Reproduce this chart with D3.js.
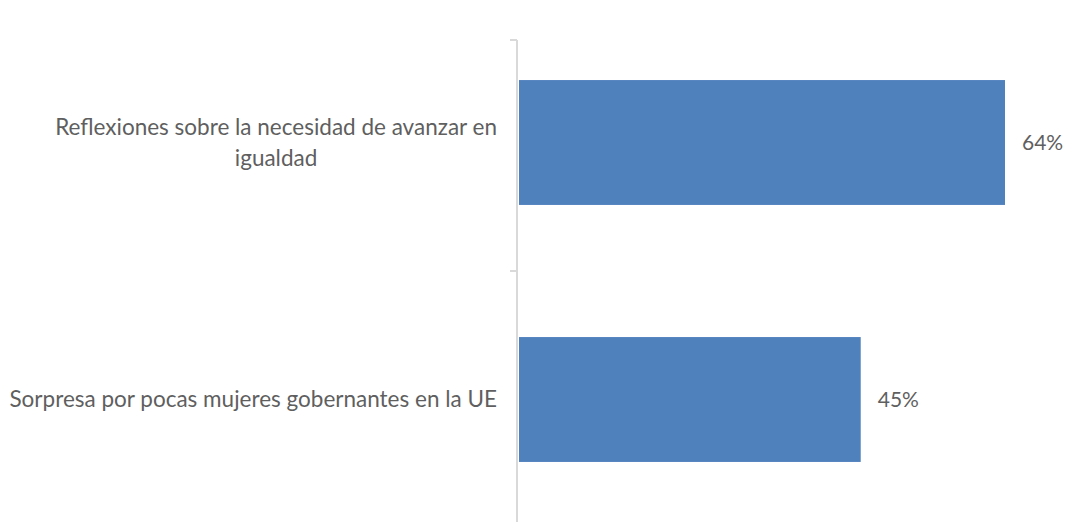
<html>
<head>
  <meta charset="utf-8" />
  <script src="https://cdnjs.cloudflare.com/ajax/libs/d3/7.8.5/d3.min.js"></script>
  <style>
    body { margin: 0; background: #fff; }
    text { font-family: Lato, "Open Sans", sans-serif; fill: #5f5f5f; }
  </style>
</head>
<body>
  <svg width="1068" height="524"></svg>
<script>

  var categories = [
    ["Reflexiones sobre la necesidad de avanzar en", "igualdad"],
    ["Sorpresa por pocas mujeres gobernantes en la UE"]
  ];
  var values = [64, 45];
  var valueLabels = ["64%", "45%"];

  var svg = d3.select("svg");
  var axisX = 517;

  var xScale = d3.scaleLinear().domain([0, 64]).range([axisX + 2, 1005]);
  var yScale = d3.scaleBand().domain(d3.range(categories.length))
                 .range([14, 528]).paddingInner(0.514).paddingOuter(0.257);

  // axis line + ticks between categories
  svg.append("line")
    .attr("x1", axisX).attr("x2", axisX)
    .attr("y1", 40).attr("y2", 522)
    .attr("stroke", "#d9d9d9").attr("stroke-width", 2);

  var tickYs = [40, (yScale(0) + yScale.bandwidth() + yScale(1)) / 2];
  svg.selectAll(".tick").data(tickYs).enter()
    .append("line")
      .attr("x1", axisX - 7).attr("x2", axisX)
      .attr("y1", d => d).attr("y2", d => d)
      .attr("stroke", "#d9d9d9").attr("stroke-width", 2);

  // bars
  svg.selectAll("rect")
    .data(values).enter()
    .append("rect")
      .attr("x", xScale(0))
      .attr("y", (d, i) => yScale(i))
      .attr("width", d => xScale(d) - xScale(0))
      .attr("height", yScale.bandwidth())
      .attr("fill", "#4f81bd");

  // value labels
  svg.selectAll(".val")
    .data(values).enter()
    .append("text")
      .attr("x", d => xScale(d) + 17)
      .attr("y", (d, i) => yScale(i) + yScale.bandwidth() / 2)
      .attr("dy", "0.35em")
      .style("font-size", "21px")
      .text((d, i) => valueLabels[i]);

  // category labels, multi-line centred in a right-aligned block
  var lineH = 31;
  var blockRight = 497;
  categories.forEach(function(lines, i) {
    var cy = yScale(i) + yScale.bandwidth() / 2;
    var g = svg.append("g");
    var ts = lines.map(function(l, j) {
      return g.append("text")
        .attr("y", cy + (j - (lines.length - 1) / 2) * lineH)
        .attr("dy", "0.35em")
        .attr("text-anchor", "middle")
        .style("font-size", "22.5px")
        .text(l);
    });
    var maxW = d3.max(ts, t => t.node().getComputedTextLength());
    ts.forEach(t => t.attr("x", blockRight - maxW / 2));
  });

</script>
</body>
</html>
